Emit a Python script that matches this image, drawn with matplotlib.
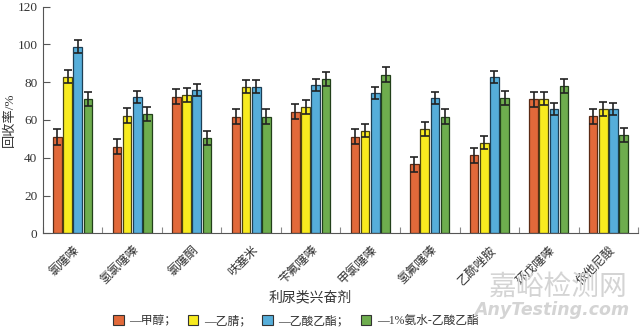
import numpy as np
import matplotlib
matplotlib.use("Agg")
import matplotlib.pyplot as plt
from matplotlib.patches import Patch

plt.rcParams['font.family'] = ['Liberation Serif', 'Noto Sans CJK SC', 'DejaVu Sans']

categories = ['氯噻嗪', '氢氯噻嗪', '氯噻酮', '呋塞米', '苄氟噻嗪',
              '甲氯噻嗪', '氢氟噻嗪', '乙酰唑胺', '环戊噻嗪', '依他尼酸']
series_names = ['—甲醇；', '—乙腈；', '—乙酸乙酯；', '—1%氨水-乙酸乙酯']

methanol = [51.2, 45.9, 72.4, 61.8, 64.4, 51.2, 36.6, 41.3, 71.0, 62.0]
acetonitrile = [83.0, 62.3, 73.3, 77.7, 66.9, 54.4, 55.3, 48.0, 71.3, 65.7]
ethyl_acetate = [98.8, 72.0, 75.8, 77.7, 78.4, 74.5, 71.7, 82.5, 65.7, 66.0]
ammonia_ea = [71.0, 63.2, 50.3, 61.8, 81.6, 84.0, 61.8, 71.5, 78.0, 52.2]

err_methanol = [4.2, 4.0, 4.0, 4.0, 4.0, 4.0, 4.0, 4.0, 4.0, 4.0]
err_acetonitrile = [3.5, 3.8, 3.6, 3.6, 3.6, 3.6, 3.6, 3.6, 3.6, 3.6]
err_ethyl_acetate = [3.4, 3.2, 3.2, 3.2, 3.2, 3.2, 3.2, 3.2, 3.2, 3.2]
err_ammonia_ea = [3.8, 3.8, 3.8, 3.8, 3.8, 3.8, 3.8, 3.8, 3.8, 3.8]

values = [methanol, acetonitrile, ethyl_acetate, ammonia_ea]
errors = [err_methanol, err_acetonitrile, err_ethyl_acetate, err_ammonia_ea]
colors = ['#E2693A', '#F8EB1F', '#56AEDA', '#6EAD4E']
edge_colors = ['#5a2a15', '#4a4510', '#1d3f55', '#22401a']

fig = plt.figure(figsize=(6.4, 3.3), dpi=100)
ax = fig.add_axes([0.067, 0.293, 0.93, 0.687])

x = np.arange(len(categories))
width = 0.146
step = 0.171
offsets = (np.arange(4) - 1.5) * step

for i in range(4):
    ax.bar(x + offsets[i], values[i], width=width, color=colors[i],
           edgecolor=edge_colors[i], linewidth=0.9, zorder=2)
    ax.errorbar(x + offsets[i], values[i], yerr=errors[i], fmt='none',
                ecolor='#222222', elinewidth=1.2, capsize=3.2, capthick=1.2,
                zorder=3)

ax.set_xlim(-0.5, len(categories) - 0.5)
ax.set_ylim(0, 120)
ax.set_yticks(np.arange(0, 121, 20))

for s in ['top', 'right']:
    ax.spines[s].set_visible(False)
for s in ['left', 'bottom']:
    ax.spines[s].set_color('#555555')
    ax.spines[s].set_linewidth(0.8)

ax.tick_params(axis='y', direction='in', length=5, width=0.8, color='#555555',
               labelsize=9.5, labelcolor='#333333', pad=4)
ax.set_xticks(x)
ax.set_xticklabels(categories, rotation=45, ha='right', va='top',
                   rotation_mode='anchor', fontsize=8.8, color='#333333',
                   family=['Noto Sans CJK SC'])
ax.tick_params(axis='x', length=0, pad=7)
ax.set_xticks(np.arange(-0.5, len(categories), 1.0), minor=True)
ax.tick_params(axis='x', which='minor', direction='in', length=4, width=0.8,
               color='#888888')

ax.set_ylabel('回收率/%', fontsize=9.5, color='#333333')
ax.yaxis.set_label_coords(-0.045, 0.5)
fig.text(0.485, 0.097, '利尿类兴奋剂', ha='center', va='center', fontsize=10,
         color='#333333')

# site watermark
fig.text(0.873, 0.13, '嘉峪检测网', ha='center', va='center', fontsize=20,
         color='#d4d4d4', family=['Noto Sans CJK SC'], zorder=0)
fig.text(0.983, 0.06, 'AnyTesting.com', ha='right', va='center', fontsize=12.5,
         color='#d4d4d4', style='italic', weight='bold',
         family=['DejaVu Sans'], zorder=0)

handles = [Patch(facecolor=c, edgecolor='#333333', linewidth=0.8) for c in colors]
fig.legend(handles, series_names, loc='center', bbox_to_anchor=(0.462, 0.027),
           ncol=4, frameon=False, fontsize=8.5, handlelength=0.9,
           handleheight=0.9, handletextpad=0.45, columnspacing=1.0,
           labelcolor='#333333')

fig.savefig('out.png', dpi=100)
